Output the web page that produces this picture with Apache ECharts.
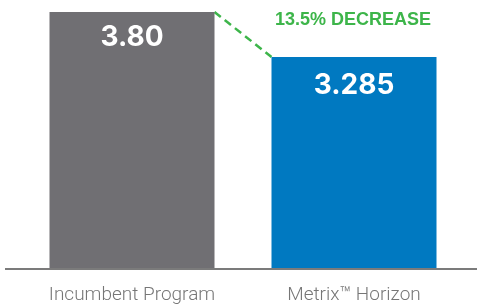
<!DOCTYPE html>
<html>
<head>
<meta charset="utf-8">
<script src="https://cdn.jsdelivr.net/npm/echarts@6/dist/echarts.min.js"></script>
<style>
  html, body { margin: 0; padding: 0; background: #fff; }
  #chart { width: 477px; height: 307px; }
</style>
</head>
<body>
<div id="chart"></div>
<script>
// data
const categories = ['Incumbent Program', 'Metrix\u2122 Horizon'];
const values = [3.80, 3.285];
const valueLabels = ['3.80', '3.285'];
const barColors = ['#706f73', '#0079c1'];
const labelGaps = [12, 15];
const changeText = '13.5% DECREASE';

const barWidth = 165;
const green = '#3db54a';

const chart = echarts.init(document.getElementById('chart'));

const option = {
  animation: false,
  grid: { left: 21, right: 12, top: 12, bottom: 39 },
  xAxis: {
    type: 'category',
    data: categories,
    axisLine: { show: false },
    axisTick: { show: false },
    axisLabel: {
      margin: 18,
      fontFamily: 'Roboto',
      fontWeight: 300,
      fontSize: 19,
      color: '#767676',
    },
  },
  yAxis: {
    type: 'value',
    // bars are not drawn from zero in the original
    min: 0.87,
    max: 3.8,
    show: false,
    splitLine: { show: false },
  },
  graphic: [
    {
      // baseline
      type: 'rect',
      z: 10,
      shape: { x: 5, y: 268, width: 472, height: 2 },
      style: { fill: '#7b7b7b' },
    },
    {
      type: 'text',
      x: 353,
      y: 20,
      style: {
        text: changeText,
        fill: green,
        font: 'bold 18px "Liberation Sans"',
        align: 'center',
        verticalAlign: 'middle',
      },
    },
  ],
  series: [
    {
      type: 'bar',
      barWidth: barWidth,
      data: values.map((v, i) => ({
        value: v,
        itemStyle: { color: barColors[i] },
        label: { distance: labelGaps[i] },
      })),
      label: {
        show: true,
        position: 'insideTop',
        color: '#fff',
        fontFamily: 'Inter',
        fontWeight: 'bold',
        fontSize: 28,
        formatter: (p) => valueLabels[p.dataIndex],
      },
    },
    {
      // dashed connector between bar tops
      type: 'custom',
      silent: true,
      data: [[0, values[0], 1, values[1]]],
      renderItem: (params, api) => {
        const p0 = api.coord([api.value(0), api.value(1)]);
        const p1 = api.coord([api.value(2), api.value(3)]);
        return {
          type: 'line',
          shape: {
            x1: p0[0] + barWidth / 2,
            y1: p0[1],
            x2: p1[0] - barWidth / 2,
            y2: p1[1],
          },
          style: { stroke: green, lineWidth: 2.5, lineDash: [8, 5] },
        };
      },
    },
  ],
};

chart.setOption(option);
</script>
</body>
</html>
